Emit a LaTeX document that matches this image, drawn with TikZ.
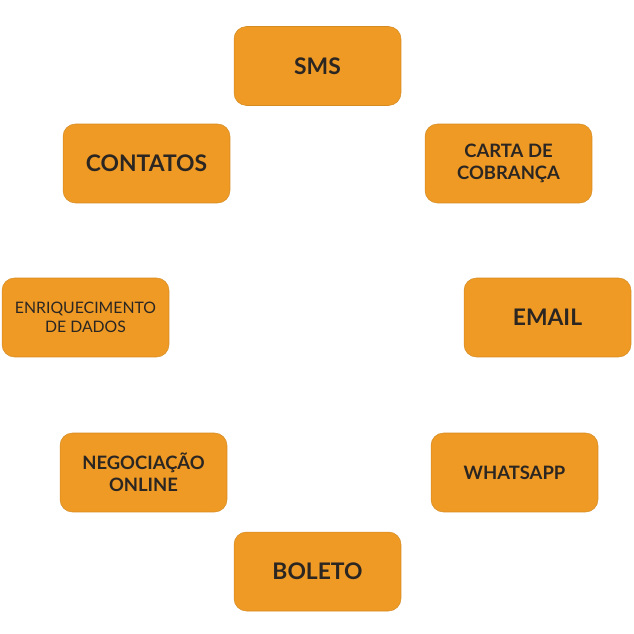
\documentclass[tikz,border=0pt]{standalone}
\usepackage{fontspec}
\setmainfont{Lato}
\usepackage{tikz}
\definecolor{boxorange}{HTML}{EE9A25}
\definecolor{boxtext}{HTML}{2B2622}

\begin{document}
\begin{tikzpicture}[x=0.02cm,y=-0.02cm,
  cbox/.style={fill=boxorange, draw=boxorange!90!black, line width=0.3pt, rounded corners=0.25cm,
    minimum width=3.34cm, minimum height=1.58cm, align=center, text=boxtext, font=\bfseries\fontsize{13}{14}\selectfont},
  sbox/.style={cbox, font=\bfseries\fontsize{10.5}{12.5}\selectfont},
  tbox/.style={cbox, font=\fontsize{9}{11}\selectfont}]
    \useasboundingbox (0,0) rectangle (634,634);
    \node[cbox] (sms) at (317.5,66) {SMS};
    \node[cbox] (contatos) at (146.5,163.5) {CONTATOS};
    \node[sbox] (carta) at (508.5,163.5) {CARTA DE\\COBRANÇA};
    \node[tbox] (enriq) at (85.5,317.5) {ENRIQUECIMENTO\\DE DADOS};
    \node[cbox] (email) at (547.5,317.5) {EMAIL};
    \node[sbox] (negoc) at (143.5,472.5) {NEGOCIAÇÃO\\ONLINE};
    \node[sbox] (whats) at (514.5,472.5) {WHATSAPP};
    \node[cbox] (boleto) at (317.5,571.5) {BOLETO};
\end{tikzpicture}
\end{document}
